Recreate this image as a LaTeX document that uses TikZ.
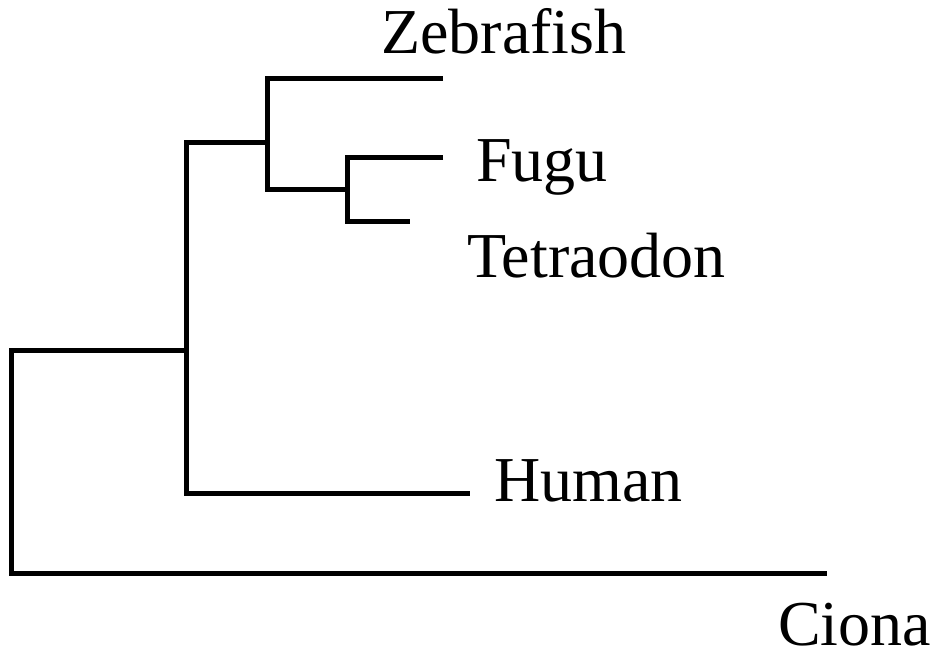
\documentclass[tikz,border=0pt]{standalone}
\usepackage{fontspec}
\setmainfont{Liberation Serif}
\begin{document}
\begin{tikzpicture}[x=1pt,y=-1pt,
  branch/.style={line width=5pt,line join=miter,line cap=butt},
  taxon/.style={inner sep=0pt,anchor=base west,font=\fontsize{64}{72}\selectfont}]
\useasboundingbox (0,0) rectangle (935,659);
% internal coordinates
\coordinate (root) at (11,461);
\coordinate (n1) at (186,318);
\coordinate (n2) at (267,134);
\coordinate (n3) at (347,189);
% tips
\coordinate (tZ) at (443,78);
\coordinate (tF) at (443,157);
\coordinate (tT) at (410,221);
\coordinate (tH) at (470,493);
\coordinate (tC) at (827,573);
% labels
\node[taxon] (Z) at (381,53) {Zebrafish};
\node[taxon] (F) at (476,181) {Fugu};
\node[taxon] (T) at (467,277) {Tetraodon};
\node[taxon] (H) at (494,501) {Human};
\node[taxon] (C) at (778,645) {Ciona};
% branches
\draw[branch] (n1 |- 0,350) -- (root |- 0,350) -- (root |- tC) -- (tC);
\draw[branch] (n2 |- 0,142) -- (n1 |- 0,142) -- (n1 |- tH) -- (tH);
\draw[branch] (tZ) -- (n2 |- tZ) -- (n2 |- n3) -- (n3);
\draw[branch] (tF) -- (n3 |- tF) -- (n3 |- tT) -- (tT);
\end{tikzpicture}
\end{document}
